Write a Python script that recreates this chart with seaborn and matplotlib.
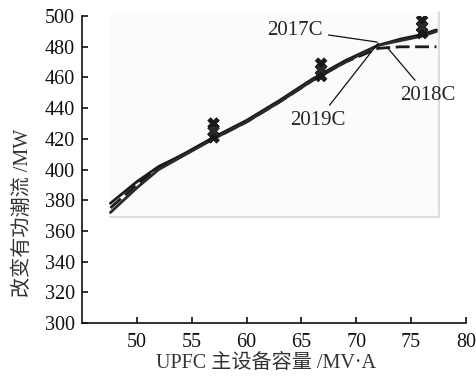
import matplotlib
matplotlib.use("Agg")
import matplotlib.pyplot as plt
import seaborn as sns
import pandas as pd
from matplotlib.patches import Rectangle

# ---- data ----
x_vals = [47.6, 50, 52, 54, 57, 60, 63, 66, 67, 69, 72, 74, 76, 77.3]
y_2017 = [378, 392, 402, 409, 421, 432, 445, 459, 463, 471, 481, 485, 488, 491]
y_2018 = [375, 390, 401, 409, 420, 431, 444, 458, 462, 470, 479, 480, 480, 480]
y_2019 = [372, 388, 400, 408, 420, 431, 444, 458, 462, 470, 481, 484, 487, 490]
series_names = ["2017C", "2018C", "2019C"]

mark_x = [57, 66.8, 76]
mark_2017 = [430, 469, 497]
mark_2018 = [421, 461, 489]
mark_2019 = [425, 465, 493]

x_ticks = [50, 55, 60, 65, 70, 75, 80]
y_ticks = [300, 320, 340, 360, 380, 400, 420, 440, 460, 480, 500]
x_label = "UPFC 主设备容量 /MV·A"
y_label = "改变有功潮流 /MW"

# ---- frames ----
rows = []
for name, ys in zip(series_names, [y_2017, y_2018, y_2019]):
    for xv, yv in zip(x_vals, ys):
        rows.append({"x": xv, "y": yv, "series": name})
df = pd.DataFrame(rows)

mrows = []
for name, ys in zip(series_names, [mark_2017, mark_2018, mark_2019]):
    for xv, yv in zip(mark_x, ys):
        mrows.append({"x": xv, "y": yv, "series": name})
mdf = pd.DataFrame(mrows)

sns.set_style("ticks")
plt.rcParams["font.family"] = ["Liberation Serif", "Noto Sans CJK SC"]

fig = plt.figure(figsize=(4.76, 3.84), dpi=100)
ax = fig.add_axes([0.172, 0.159, 0.807, 0.799])

# faint background image region
ax.add_patch(Rectangle((47.6, 369), 77.5 - 47.6, 502.5 - 369,
                       facecolor="#fbfbfb", edgecolor="none", zorder=0, clip_on=False))
ax.plot([47.6, 77.5, 77.5], [369, 369, 502.5], color="#dddddd", lw=1.5, zorder=0.5,
        clip_on=False)

palette = {"2017C": "#1a1a1a", "2018C": "#1a1a1a", "2019C": "#2a2a2a"}
sns.lineplot(data=df, x="x", y="y", hue="series", style="series",
             palette=palette,
             dashes={"2017C": "", "2018C": (5, 2), "2019C": ""},
             linewidth=2.0, legend=False, ax=ax, sort=False)
sns.scatterplot(data=mdf, x="x", y="y", hue="series", palette=palette,
                marker="X", s=70, linewidth=0.5, edgecolor="#111111",
                legend=False, ax=ax, zorder=5)

ax.set_xlim(45, 80)
ax.set_ylim(300, 500)
ax.set_xticks(x_ticks)
ax.set_yticks(y_ticks)
ax.tick_params(direction="in", length=4, width=1.2, labelsize=14.5, colors="#111111")
ax.tick_params(axis="x", pad=7)
ax.tick_params(axis="y", pad=5)
for s in ["top", "right"]:
    ax.spines[s].set_visible(False)
for s in ["left", "bottom"]:
    ax.spines[s].set_linewidth(1.2)
    ax.spines[s].set_color("#111111")

ax.set_xlabel(x_label, fontsize=14.5, color="#333333")
ax.set_ylabel(y_label, fontsize=14.5, color="#333333")
ax.xaxis.set_label_coords(0.479, -0.1)
ax.yaxis.set_label_coords(-0.127, 0.36)

ap = dict(arrowstyle="-", color="#111111", lw=0.9, shrinkA=2, shrinkB=0)
ax.annotate("2017C", xy=(71.9, 483.1), xytext=(64.4, 490.9), ha="center", va="center",
            fontsize=15, arrowprops=ap)
ax.annotate("2018C", xy=(72.8, 479.8), xytext=(76.5, 448.5), ha="center", va="center",
            fontsize=15, arrowprops=ap)
ax.annotate("2019C", xy=(72.0, 482.4), xytext=(66.5, 432.2), ha="center", va="center",
            fontsize=15, arrowprops=ap)

fig.savefig("out.png", dpi=100)
